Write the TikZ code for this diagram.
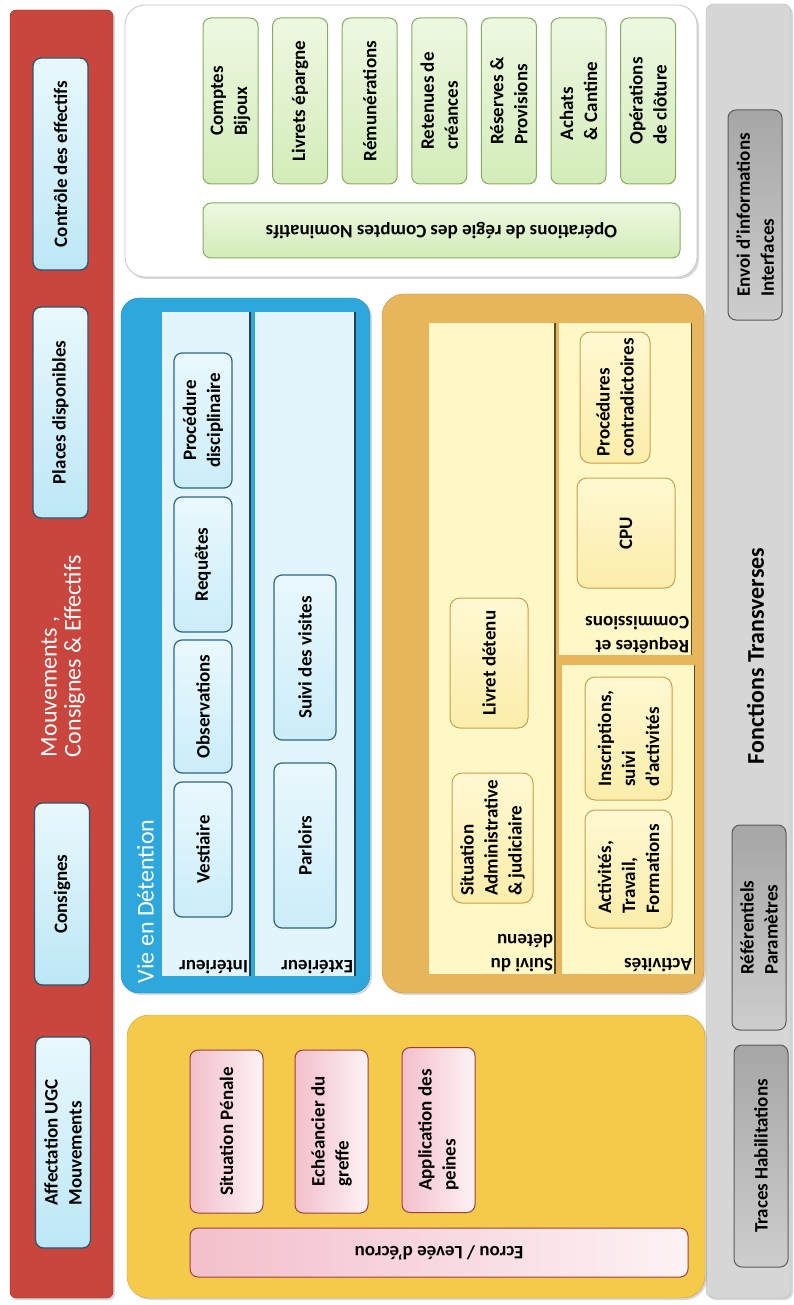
\documentclass[tikz,border=0pt]{standalone}
\usepackage{fontspec}
\setmainfont{Carlito}
\usetikzlibrary{shadows}
\definecolor{redp}{HTML}{C8463E}
\definecolor{redb}{HTML}{9A2E28}
\definecolor{lbA}{HTML}{E8F8FD}
\definecolor{lbB}{HTML}{BDE7F6}
\definecolor{lbborder}{HTML}{2C5470}
\definecolor{bluep}{HTML}{2EA7DC}
\definecolor{bluebd}{HTML}{1F86BA}
\definecolor{bcolc}{HTML}{E3F5FC}
\definecolor{colline}{HTML}{2A3F4E}
\definecolor{bboxA}{HTML}{E9F8FD}
\definecolor{bboxB}{HTML}{CBEDF9}
\definecolor{bboxb}{HTML}{2F6486}
\definecolor{gfillA}{HTML}{EEF8E2}
\definecolor{gfillB}{HTML}{D3ECB8}
\definecolor{gborder}{HTML}{88AA66}
\definecolor{grayp}{HTML}{D6D6D6}
\definecolor{grayb}{HTML}{B4B4B4}
\definecolor{gboxA}{HTML}{A6A6A6}
\definecolor{gboxB}{HTML}{CDCDCD}
\definecolor{gboxb}{HTML}{5A5A5A}
\definecolor{orangep}{HTML}{E7B55C}
\definecolor{orangeb}{HTML}{C49446}
\definecolor{ocol}{HTML}{FFF7C6}
\definecolor{oboxA}{HTML}{FFF8D2}
\definecolor{oboxB}{HTML}{FCEDAA}
\definecolor{oboxb}{HTML}{C7A04E}
\definecolor{ocolline}{HTML}{5A4A2A}
\definecolor{yellowp}{HTML}{F5CA4A}
\definecolor{yellowb}{HTML}{C9A03A}
\definecolor{pinkA}{HTML}{FDF2F5}
\definecolor{pinkB}{HTML}{F3BFCB}
\definecolor{pinkb}{HTML}{9E3C3C}
\begin{document}
\begin{tikzpicture}[x=1pt,y=-1pt,
  every node/.style={inner sep=0pt, outer sep=0pt},
  boxdim/.style 2 args={minimum width=#1, minimum height=#2},
  rv/.style={rotate=90},
  ru/.style={rotate=180},
  boxfont/.style={font=\fontsize{19}{24}\selectfont\bfseries},
  titlefont/.style={font=\fontsize{24}{24}\selectfont},
  panel/.style={drop shadow={opacity=0.3, shadow xshift=2pt, shadow yshift=-2pt}},
  lbbox/.style={rv, draw=lbborder, line width=1.3pt, rounded corners=8pt, top color=lbA, bottom color=lbB, boxfont, align=left},
  gbox/.style={draw=gborder, line width=1pt, rounded corners=8pt, top color=gfillA, bottom color=gfillB, boxfont, align=left},
  bbox/.style={rv, draw=bboxb, line width=1.2pt, rounded corners=8pt, top color=bboxA, bottom color=bboxB, boxfont, align=left},
  obox/.style={rv, draw=oboxb, line width=1pt, rounded corners=10pt, top color=oboxA, bottom color=oboxB, boxfont, align=left},
  pbox/.style={draw=pinkb, line width=1pt, rounded corners=8pt, boxfont, align=left},
  graybox/.style={rv, draw=gboxb, line width=1pt, rounded corners=8pt, top color=gboxA, bottom color=gboxB, boxfont, align=left},
  bcol/.style={fill=bcolc},
  ocolumn/.style={fill=ocol},
  bline/.style={draw=colline, line width=1.4pt},
  oline/.style={draw=ocolline, line width=1.4pt}
]
\useasboundingbox (0,0) rectangle (793,1305);
\fill[white] (0,0) rectangle (793,1305);

% ---------- red panel ----------
\node (red) [panel, fill=redp, draw=redb, rounded corners=6pt, boxdim={103}{1288}] at (61.5,654) {};
\node (ctrl) [lbbox, boxdim={212}{55}] at (60.5,164) {Contrôle des effectifs};
\node (places) [lbbox, boxdim={211}{55}] at (60.5,412.5) {Places disponibles};
\node (consignes) [lbbox, boxdim={182}{55}] at (62,894) {Consignes};
\node (affect) [lbbox, boxdim={211}{55}] at (63,1142.5) {Affectation UGC\\Mouvements};
\node (mvt) [rv, anchor=west, align=left, titlefont, text=white] at (63,757) {Mouvements ,\\Consignes \& Effectifs};

% ---------- white panel (comptes) ----------
\node (wpanel) [panel, fill=white, draw=gray!45, line width=0.8pt, rounded corners=20pt, boxdim={572}{272}] at (411,141) {};
\node (g1) [gbox, rv, boxdim={166}{55}] at (230.5,101) {Comptes\\Bijoux};
\node (g2) [gbox, rv, boxdim={166}{55}] at (300.1,101) {Livrets épargne};
\node (g3) [gbox, rv, boxdim={166}{55}] at (369.7,101) {Rémunérations};
\node (g4) [gbox, rv, boxdim={166}{55}] at (439.3,101) {Retenues de\\créances};
\node (g5) [gbox, rv, boxdim={166}{55}] at (508.9,101) {Réserves \&\\Provisions};
\node (g6) [gbox, rv, boxdim={166}{55}] at (578.5,101) {Achats\\\& Cantine};
\node (g7) [gbox, rv, boxdim={166}{55}] at (648.1,101) {Opérations\\de clôture};
\node (regie) [gbox, ru, boxdim={477}{55}] at (441.5,230.5) {Opérations de régie des Comptes Nominatifs};

% ---------- gray panel ----------
\node (gpanel) [panel, fill=grayp, draw=grayb, rounded corners=8pt, boxdim={85}{1294}] at (748.5,651) {};
\node (ft) [rv, font=\fontsize{24}{28}\selectfont\bfseries] at (755.5,656) {Fonctions Transverses};
\node (envoi) [graybox, boxdim={210}{54}] at (755,215) {Envoi d’informations\\Interfaces};
\node (refp) [graybox, boxdim={205}{54}] at (759,927.5) {Référentiels\\Paramètres};
\node (traces) [graybox, boxdim={222}{54}] at (761,1156) {Traces Habilitations};

% ---------- blue panel ----------
\node (bpanel) [panel, fill=bluep, draw=bluebd, rounded corners=18pt, boxdim={249}{695}] at (245.5,645.5) {};
\node (inter) [bcol, boxdim={88}{664}] at (206,644) {};
\node (exter) [bcol, boxdim={100}{664}] at (305,644) {};
\draw[bline] (inter.north east) -- (inter.south east);
\draw[bline] (exter.north east) -- (exter.south east);
\node (vie) [rv, titlefont, text=white] at (145.5,901.5) {Vie en Détention};
\node (lint) [ru, anchor=north west, boxfont] at (248,974) {Intérieur};
\node (lext) [ru, anchor=north west, boxfont] at (353,974) {Extérieur};
\node (proc) [bbox, align=center, boxdim={135}{58}] at (203,420.5) {Procédure\\disciplinaire};
\node (req) [bbox, boxdim={135}{58}] at (203,564.5) {Requêtes};
\node (obs) [bbox, boxdim={133}{58}] at (203,706.5) {Observations};
\node (vest) [bbox, boxdim={135}{58}] at (203,849.5) {Vestiaire};
\node (visites) [bbox, boxdim={165}{62}] at (305,657.5) {Suivi des visites};
\node (parloirs) [bbox, boxdim={165}{62}] at (305,845.5) {Parloirs};

% ---------- orange panel ----------
\node (opanel) [panel, fill=orangep, draw=orangeb, rounded corners=22pt, boxdim={322}{699}] at (543,643.5) {};
\node (suivi) [ocolumn, boxdim={126}{651}] at (492,648.5) {};
\node (reqcol) [ocolumn, boxdim={133}{332}] at (625,489) {};
\node (actcol) [ocolumn, boxdim={133}{309}] at (628,819.5) {};
\draw[oline] (suivi.north east) -- (suivi.south east);
\draw[oline] (reqcol.north east) -- (reqcol.south east);
\draw[oline] (actcol.north east) -- (actcol.south east);
\node (lsuivi) [ru, anchor=north west, align=left, boxfont] at (553,972) {Suivi du\\détenu};
\node (lact) [ru, anchor=north west, boxfont] at (692,972) {Activités};
\node (lreq) [ru, anchor=north west, align=left, boxfont] at (689,653) {Requêtes et\\Commissions};
\node (sitadm) [obox, boxdim={130}{81}] at (492.5,838) {Situation\\Administrative\\\& judiciaire};
\node (livret) [obox, boxdim={130}{78}] at (489,663) {Livret détenu};
\node (cpu) [obox, boxdim={110}{98}] at (626,533) {CPU};
\node (pcontr) [obox, boxdim={131}{70}] at (615,397.5) {Procédures\\contradictoires};
\node (acttrav) [obox, boxdim={118}{87}] at (628.5,869) {Activités,\\Travail,\\Formations};
\node (inscr) [obox, boxdim={123}{87}] at (628.5,738.5) {Inscriptions,\\suivi\\d’activités};

% ---------- yellow panel ----------
\node (ypanel) [panel, fill=yellowp, draw=yellowb, rounded corners=22pt, boxdim={578}{283}] at (416,1156.5) {};
\node (sitpen) [pbox, rv, boxdim={163}{73}, left color=pinkB, right color=pinkA] at (226.5,1131.5) {Situation Pénale};
\node (echeance) [pbox, rv, boxdim={163}{73}, left color=pinkB, right color=pinkA] at (331.5,1131.5) {Echéancier du\\greffe};
\node (appli) [pbox, rv, boxdim={165}{73}, left color=pinkB, right color=pinkA] at (438.5,1130) {Application des\\peines};
\node (ecrou) [pbox, ru, boxdim={498}{49}, left color=pinkB, right color=pinkA] at (439,1252.5) {Ecrou / Levée d’écrou};
\end{tikzpicture}
\end{document}
